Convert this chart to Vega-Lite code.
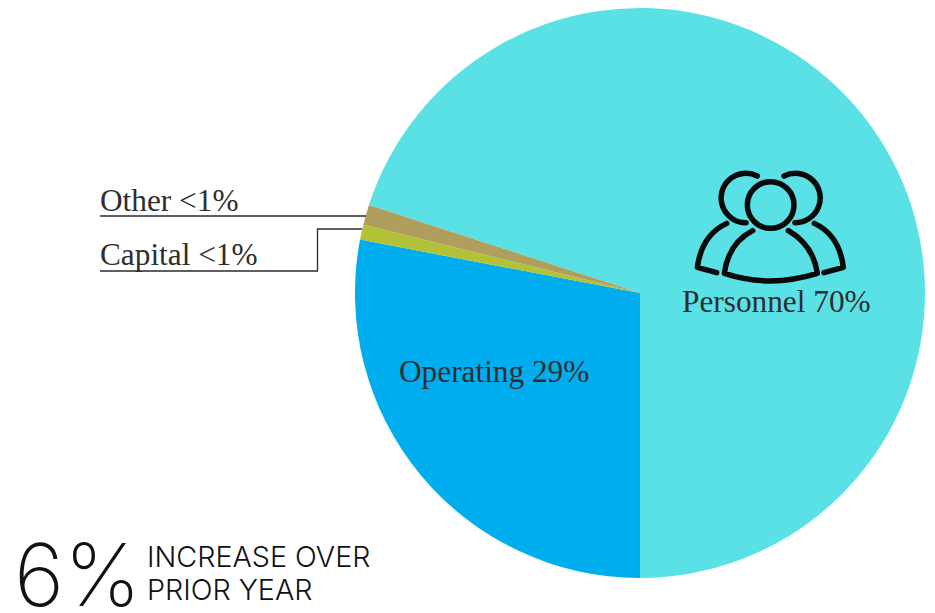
{
"$schema":"https://vega.github.io/schema/vega-lite/v6.json",
"autosize":{"type":"none"},
"width":935,"height":613,"padding":0,
"background":"white",
"view":{"stroke":null},
"config":{"axis":{"domain":false,"ticks":false,"labels":false,"grid":false,"title":null}},
"layer":[
{"data":{"values":[
{"category":"Personnel","share":70,"rank":1},
{"category":"Operating","share":28,"rank":2},
{"category":"Capital","share":0.85,"rank":3},
{"category":"Other","share":1.15,"rank":4}]},
"mark":{"type":"arc","outerRadius":285,"innerRadius":0,"stroke":null},
"encoding":{
"x":{"datum":640,"type":"quantitative","scale":{"domain":[0,935],"nice":false,"zero":false},"axis":null},
"y":{"datum":293,"type":"quantitative","scale":{"domain":[613,0],"nice":false,"zero":false},"axis":null},
"theta":{"field":"share","type":"quantitative","stack":true,"scale":{"range":[-1.2566,5.0266]}},
"order":{"field":"rank"},
"color":{"field":"category","type":"nominal","legend":null,"scale":{"domain":["Personnel","Operating","Capital","Other"],"range":["#5AE1E6","#00ADEF","#B2C236","#B09F5C"]}}
}},
{"data":{"values":[
{"leader":"Other","step":1,"px":100,"py":216},
{"leader":"Other","step":2,"px":366,"py":216},
{"leader":"Capital","step":1,"px":100,"py":271},
{"leader":"Capital","step":2,"px":317.5,"py":271},
{"leader":"Capital","step":3,"px":317.5,"py":229},
{"leader":"Capital","step":4,"px":362,"py":229}]},
"mark":{"type":"line","color":"#2b2b2b","strokeWidth":1.3,"interpolate":"linear"},
"encoding":{
"x":{"field":"px","type":"quantitative"},
"y":{"field":"py","type":"quantitative"},
"detail":{"field":"leader"},
"order":{"field":"step"}
}},
{"data":{"values":[{"icon":"people","px":770,"py":226.7}]},
"mark":{"type":"point","filled":false,"stroke":"#0a0a0a","strokeWidth":5.5,"strokeCap":"round","strokeJoin":"round","opacity":1,"size":32400,
"shape":"M-0.2519,-0.2407A0.2593,0.2593,0,1,1,0.2667,-0.2407A0.2593,0.2593,0,1,1,-0.2519,-0.2407Z M-0.141,-0.563A0.275,0.275,0,1,0,-0.267,-0.044 M0.156,-0.563A0.275,0.275,0,1,1,0.278,-0.044 M-0.193,0.044Q-0.463,0.185,-0.507,0.519Q0,0.685,0.526,0.519Q0.481,0.204,0.204,0.044 M-0.481,-0.037Q-0.759,0.093,-0.807,0.452L-0.593,0.511 M0.493,-0.037Q0.77,0.093,0.815,0.452L0.6,0.511"},
"encoding":{
"x":{"field":"px","type":"quantitative"},
"y":{"field":"py","type":"quantitative"}
}},
{"data":{"values":[
{"label":"Personnel 70%","px":682,"py":312},
{"label":"Operating 29%","px":399,"py":382},
{"label":"Other <1%","px":100,"py":211},
{"label":"Capital <1%","px":100,"py":265}]},
"mark":{"type":"text","font":"Liberation Serif","fontSize":31.3,"align":"left","baseline":"alphabetic","color":"#2e2e2e"},
"encoding":{
"x":{"field":"px","type":"quantitative"},
"y":{"field":"py","type":"quantitative"},
"text":{"field":"label"}
}},
{"data":{"values":[
{"label":"INCREASE OVER","px":147,"py":567},
{"label":"PRIOR YEAR","px":147,"py":600}]},
"mark":{"type":"text","font":"Inter","fontWeight":300,"fontSize":28.7,"align":"left","baseline":"alphabetic","color":"#111111"},
"encoding":{
"x":{"field":"px","type":"quantitative"},
"y":{"field":"py","type":"quantitative"},
"text":{"field":"label"}
}},
{"data":{"values":[{"label":"6%","px":14,"py":606}]},
"mark":{"type":"text","font":"Inter","fontWeight":200,"fontSize":86,"align":"left","baseline":"alphabetic","color":"#111111"},
"encoding":{
"x":{"field":"px","type":"quantitative"},
"y":{"field":"py","type":"quantitative"},
"text":{"field":"label"}
}}
]}
